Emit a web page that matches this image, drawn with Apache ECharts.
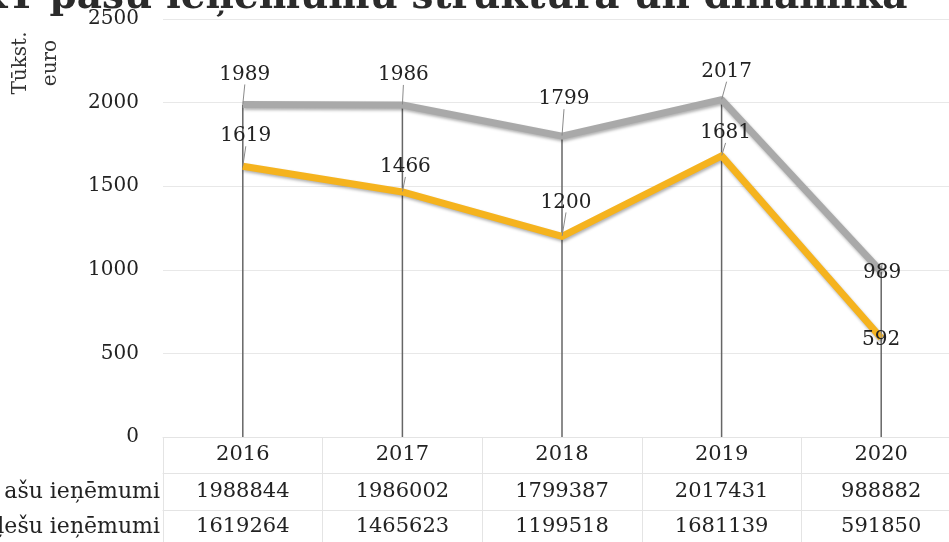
<!DOCTYPE html>
<html>
<head>
<meta charset="utf-8">
<script src="https://cdn.jsdelivr.net/npm/echarts@6/dist/echarts.min.js"></script>
<style>
html,body{margin:0;padding:0;background:#fff;overflow:hidden;}
#chart{width:970px;height:542px;}
</style>
</head>
<body>
<div id="chart"></div>
<script>
// ---- data ----
const years = ['2016', '2017', '2018', '2019', '2020'];
const pasuIenemumi = [1988844, 1986002, 1799387, 2017431, 988882];
const nodokluIenemumi = [1619264, 1465623, 1199518, 1681139, 591850];
const yTicks = [0, 500, 1000, 1500, 2000, 2500];
const rowLabels = ['ašu ieņēmumi', 'ļešu ieņēmumi'];
const titleText = 'KT pašu ieņēmumu struktūra un dinamika';
const yName = 'Tūkst.\neuro';

// ---- label placement (style) ----
const grayOff = [[2, -30], [1, -30], [2, -37], [5, -28], [1, 1]];
const orangeOff = [[3, -30], [3, -25], [4, -34], [4, -23], [0, 2]];

const toK = v => v / 1000;
const pasuK = pasuIenemumi.map(toK);
const nodK = nodokluIenemumi.map(toK);
const dropK = pasuK.map((v, i) => Math.max(v, nodK[i]));

const FONT = '"DejaVu Serif", serif';
const chart = echarts.init(document.getElementById('chart'));

const gridLeft = 163, gridTop = 19, gridW = 798, gridH = 418;
const tableLine = '#e4e4e4';

function tableAxis(data, offset, margin) {
  return {
    type: 'category',
    data: data,
    position: 'bottom',
    offset: offset,
    boundaryGap: true,
    axisLine: { show: true, lineStyle: { color: tableLine, width: 1 } },
    axisTick: { show: true, alignWithLabel: false, length: 37, lineStyle: { color: tableLine, width: 1 } },
    axisLabel: { margin: margin, fontFamily: FONT, fontSize: 21, color: '#222', interval: 0 },
    splitLine: { show: false }
  };
}

function lineSeries(name, values, offs, color, z) {
  return {
    name: name,
    type: 'line',
    data: values,
    symbol: 'circle',
    symbolSize: 1,
    itemStyle: { color: 'rgba(0,0,0,0)' },
    lineStyle: { color: color, width: 7, shadowColor: 'rgba(0,0,0,0.3)', shadowBlur: 3, shadowOffsetX: 1, shadowOffsetY: 2, join: 'round' },
    label: {
      show: true, position: 'inside', fontFamily: FONT, fontSize: 20, color: '#222',
      formatter: p => Math.round(p.value)
    },
    labelLayout: p => ({ dx: offs[p.dataIndex][0], dy: offs[p.dataIndex][1] }),
    labelLine: { show: true, length2: 0, smooth: false, minTurnAngle: 0, lineStyle: { color: '#8a8a8a', width: 1 } },
    z: z
  };
}

chart.setOption({
  animation: false,
  backgroundColor: '#fff',
  grid: { left: gridLeft, top: gridTop, width: gridW, height: gridH, containLabel: false },
  xAxis: [
    tableAxis(years, 0, 7),
    tableAxis(pasuIenemumi.map(String), 36, 8),
    tableAxis(nodokluIenemumi.map(String), 73, 6)
  ],
  yAxis: {
    type: 'value',
    min: yTicks[0],
    max: yTicks[yTicks.length - 1],
    interval: yTicks[1] - yTicks[0],
    axisLine: { show: false },
    axisTick: { show: false },
    axisLabel: { margin: 24, fontFamily: FONT, fontSize: 20, color: '#222', formatter: v => String(v) },
    splitLine: { show: true, lineStyle: { color: '#e8e8e8', width: 1 } }
  },
  graphic: [
    {
      type: 'text', left: -27, top: -22, z: 10,
      style: { text: titleText, font: 'bold 39px "DejaVu Serif"', fill: '#2b2b2b' }
    },
    {
      type: 'text', x: 36, y: 63, rotation: Math.PI / 2, z: 10,
      style: { text: yName, font: '20px "DejaVu Serif"', fill: '#333', align: 'center', verticalAlign: 'middle', lineHeight: 30 }
    },
    {
      type: 'text', x: 160, y: 492, z: 10,
      style: { text: rowLabels[0], font: '22px "DejaVu Serif"', fill: '#222', align: 'right', verticalAlign: 'middle' }
    },
    {
      type: 'text', x: 160, y: 527, z: 10,
      style: { text: rowLabels[1], font: '22px "DejaVu Serif"', fill: '#222', align: 'right', verticalAlign: 'middle' }
    }
  ],
  series: [
    {
      name: 'drop',
      type: 'bar',
      data: dropK,
      barWidth: 1.5,
      itemStyle: { color: '#666' },
      silent: true,
      z: 1
    },
    lineSeries('Pašu ieņēmumi', pasuK, grayOff, '#a9a9a9', 3),
    lineSeries('Nodokļu ieņēmumi', nodK, orangeOff, '#f5b31e', 4)
  ]
});
</script>
</body>
</html>
